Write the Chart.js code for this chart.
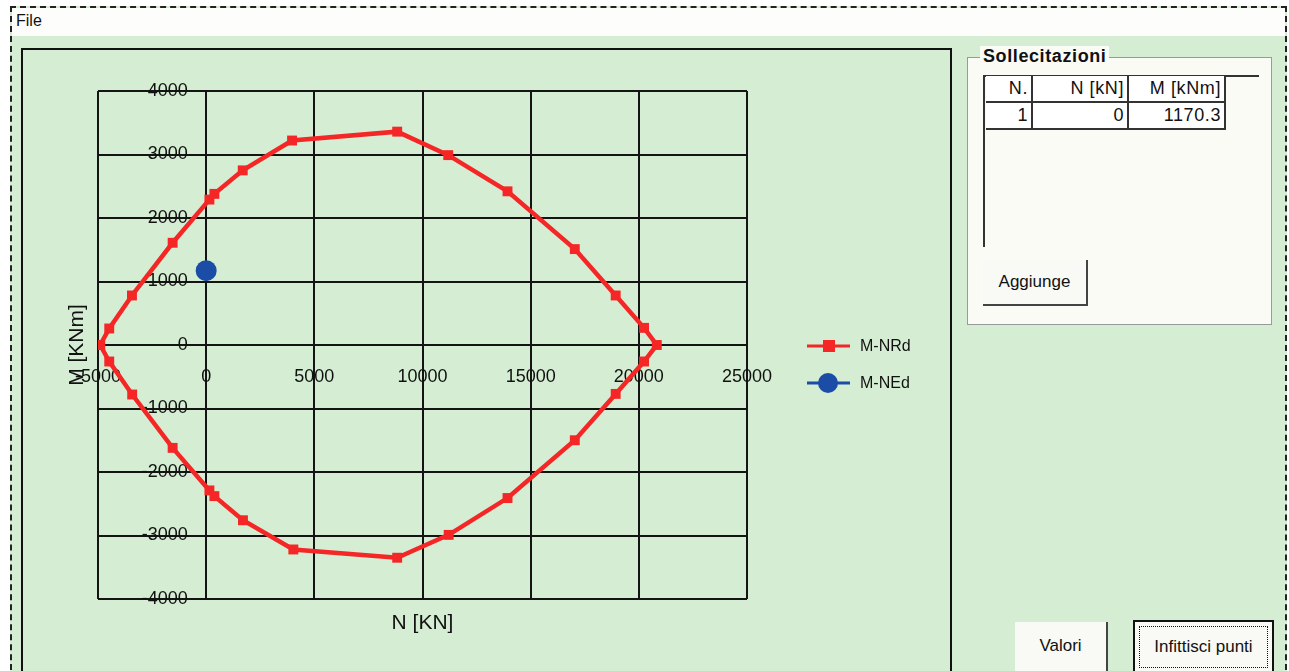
<!DOCTYPE html>
<html>
<head>
<meta charset="utf-8">
<script src="https://cdn.jsdelivr.net/npm/chart.js"></script>
<style>
  body { margin: 0; width: 1289px; height: 671px; overflow: hidden; background: #fff; font-family: "Liberation Sans", Arial, sans-serif; }
  .win { position: absolute; left: 10px; top: 6px; width: 1273px; height: 700px; border: 2px dashed #222; background: #d5eed3; }
  .menu { position: absolute; left: 0; top: 0; right: 0; height: 28px; background: #fdfdfb; }
  .menu span { position: absolute; left: 4px; top: 4px; font-size: 16px; color: #111; }
  .panel { position: absolute; left: 21px; top: 48px; width: 927px; height: 660px; border: 2px solid #111; }
  #wrap { position: absolute; left: 23px; top: 50px; width: 927px; height: 623px; }
  .group { position: absolute; left: 967px; top: 57px; width: 303px; height: 266px; border: 1px solid #9a9a9a; background: #fbfbf6; }
  .glabel { position: absolute; left: 980px; top: 46px; padding: 0 3px; background: #fbfbf6; font-weight: bold; font-size: 18px; letter-spacing: 0.6px; color: #111; }
  .grid { position: absolute; left: 983px; top: 75px; width: 274px; height: 170px; border-top: 2px solid #333; border-left: 2px solid #333; }
  .cell { position: absolute; box-sizing: border-box; height: 27px; border-right: 2px solid #333; border-bottom: 2px solid #333; text-align: right; padding-right: 3px; font-size: 18px; letter-spacing: 0.6px; line-height: 25px; color: #111; background: #fff; }
  .btn { position: absolute; box-sizing: border-box; background: #f9f9f5; border-right: 2px solid #444; border-bottom: 2px solid #444; font-size: 17px; color: #111; text-align: center; }
  .focus { border: 2px solid #111; }
  .focus span { position: absolute; left: 4px; top: 4px; right: 4px; bottom: 4px; border: 1px dotted #111; }
</style>
</head>
<body>
<div class="win"><div class="menu"><span>File</span></div></div>
<div class="panel"></div>
<div id="wrap"><canvas id="chart"></canvas></div>
<div class="group"></div>
<div class="glabel">Sollecitazioni</div>
<div class="grid" id="grid"></div>
<div class="btn" style="left:983px;top:260px;width:105px;height:46px;line-height:44px;">Aggiunge</div>
<div class="btn" style="left:1015px;top:622px;width:93px;height:52px;line-height:48px;">Valori</div>
<div class="btn focus" style="left:1133px;top:620px;width:141px;height:54px;line-height:50px;"><span></span>Infittisci punti</div>
<script>
// M-N interaction domain (resisting)
const nRd = [-4900, -4480, -3430, -1550, 150, 380, 1690, 3970, 8830, 11190, 13930, 17040, 18930, 20240, 20830,
             20240, 18930, 17040, 13930, 11210, 8830, 4030, 1700, 380, 150, -1550, -3420, -4480, -4900];
const mRd = [0, 260, 780, 1610, 2290, 2380, 2750, 3220, 3360, 2990, 2420, 1510, 780, 270, 0,
             -260, -770, -1500, -2410, -2990, -3350, -3220, -2760, -2380, -2290, -1620, -780, -260, 0];
// design actions
const nEd = [0];
const mEd = [1170.3];
const xTicks = [-5000, 0, 5000, 10000, 15000, 20000, 25000];
const yTicks = [-4000, -3000, -2000, -1000, 0, 1000, 2000, 3000, 4000];

// table of actions
const grid = document.getElementById('grid');
const cols = [['N.', 47], ['N [kN]', 96], ['M [kNm]', 97]];
function addCell(text, left, top, w) {
    const d = document.createElement('div');
    d.className = 'cell';
    d.style.left = left + 'px';
    d.style.top = top + 'px';
    d.style.width = w + 'px';
    d.textContent = text;
    grid.appendChild(d);
}
let cx = 1;
cols.forEach(c => { addCell(c[0], cx, -1, c[1]); cx += c[1]; });
nEd.forEach((n, i) => {
    const row = [String(i + 1), String(n), mEd[i].toFixed(1)];
    let x = 1;
    row.forEach((t, j) => { addCell(t, x, 26 + i * 26, cols[j][1]); x += cols[j][1]; });
});

const RED = '#f42626';
const BLUE = '#1c4da6';
const FONT = '"Liberation Sans", Arial, sans-serif';
const GRID = '#141414';

const extras = {
    id: 'extras',
    afterDraw(chart) {
        const ctx = chart.ctx;
        const a = chart.chartArea;
        ctx.save();
        ctx.fillStyle = '#111';
        ctx.font = '21px ' + FONT;
        ctx.textAlign = 'center';
        ctx.textBaseline = 'middle';
        ctx.fillText('N [KN]', (a.left + a.right) / 2, a.bottom + 24);
        ctx.translate(a.left - 21, (a.top + a.bottom) / 2);
        ctx.rotate(-Math.PI / 2);
        ctx.fillText('M [KNm]', 0, 0);
        ctx.restore();

        // legend: line with marker
        ctx.save();
        chart.data.datasets.forEach((ds, i) => {
            const x0 = a.right + 60, y = (a.top + a.bottom) / 2 + 1 + i * 37;
            ctx.strokeStyle = ds.borderColor;
            ctx.lineWidth = 3;
            ctx.beginPath();
            ctx.moveTo(x0, y);
            ctx.lineTo(x0 + 43, y);
            ctx.stroke();
            ctx.fillStyle = ds.pointBackgroundColor;
            if (ds.pointStyle === 'rect') {
                ctx.fillRect(x0 + 16, y - 6, 12, 12);
            } else {
                ctx.beginPath();
                ctx.arc(x0 + 21, y, 10, 0, Math.PI * 2);
                ctx.fill();
            }
            ctx.fillStyle = '#111';
            ctx.font = '16px ' + FONT;
            ctx.textAlign = 'left';
            ctx.textBaseline = 'middle';
            ctx.fillText(ds.label, x0 + 53, y + 1);
        });
        ctx.restore();
    }
};

new Chart(document.getElementById('chart'), {
    type: 'scatter',
    data: {
        datasets: [{
            label: 'M-NRd',
            data: nRd.map((n, i) => ({ x: n, y: mRd[i] })),
            showLine: true,
            borderColor: RED,
            borderWidth: 4.5,
            pointStyle: 'rect',
            pointRadius: 7,
            pointBackgroundColor: RED,
            pointBorderWidth: 0
        }, {
            label: 'M-NEd',
            data: nEd.map((n, i) => ({ x: n, y: mEd[i] })),
            borderColor: BLUE,
            pointStyle: 'circle',
            pointRadius: 10.5,
            pointBackgroundColor: BLUE,
            pointBorderWidth: 0
        }]
    },
    options: {
        responsive: true,
        maintainAspectRatio: false,
        animation: false,
        layout: { padding: { left: 75, top: 41, right: 203, bottom: 74 } },
        plugins: { legend: { display: false }, tooltip: { enabled: false } },
        scales: {
            x: {
                type: 'linear',
                min: -5000, max: 25000,
                position: { y: 0 },
                afterBuildTicks: s => { s.ticks = xTicks.map(v => ({ value: v })); },
                grid: { color: GRID, lineWidth: 2, drawTicks: false },
                border: { color: GRID, width: 2 },
                ticks: { autoSkip: false, maxRotation: 0, padding: 21, color: '#111', font: { family: FONT, size: 18 }, callback: v => String(v) }
            },
            y: {
                type: 'linear',
                min: -4000, max: 4000,
                // labels sit just left of the N = 0 grid line
                position: { x: -850 },
                afterBuildTicks: s => { s.ticks = yTicks.map(v => ({ value: v })); },
                grid: { color: GRID, lineWidth: 2, drawTicks: false },
                border: { display: false },
                ticks: { autoSkip: false, color: '#111', font: { family: FONT, size: 18 }, callback: v => String(v) }
            }
        }
    },
    plugins: [extras]
});
</script>
</body>
</html>
